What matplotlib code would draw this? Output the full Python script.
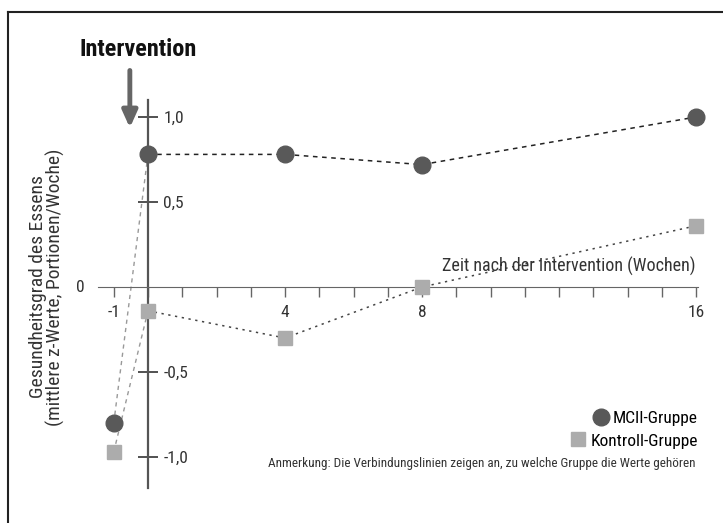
import matplotlib.pyplot as plt
from matplotlib.lines import Line2D

plt.rcParams['font.family'] = ['Roboto Condensed', 'DejaVu Sans']

# Daten: Wochen nach der Intervention und mittlere z-Werte
wochen = [-1, 0, 4, 8, 16]
mcii = [-0.80, 0.78, 0.78, 0.72, 1.00]
kontrolle = [-0.97, -0.14, -0.30, 0.00, 0.36]

x_ticks = list(range(-1, 17))
x_label_pos = [-1, 4, 8, 16]
y_ticks = [1.0, 0.5, -0.5, -1.0]
y_labels = ["1,0", "0,5", "-0,5", "-1,0"]

fig = plt.figure(figsize=(7.23, 5.23), dpi=100)
ax = fig.add_axes([0, 0, 1, 1])
ax.set_xlim(-148 / 34.25, (723 - 148) / 34.25)
ax.set_ylim((287 - 523) / 170, 287 / 170)

# Rahmen oben und links
fig.add_artist(Line2D([8 / 723, 8 / 723], [0, 1 - 12 / 523], color="#222222", lw=1.5))
fig.add_artist(Line2D([8 / 723, 1], [1 - 12 / 523, 1 - 12 / 523], color="#222222", lw=1.5))

# Achsen
for s in ["top", "left"]:
    ax.spines[s].set_visible(False)
ax.spines["bottom"].set_position(("data", 0))
ax.spines["bottom"].set_bounds(-1.46, 16.05)
ax.spines["bottom"].set_color("#666666")
ax.spines["right"].set_position(("data", 0))
ax.spines["right"].set_bounds(-1.18, 1.1)
ax.spines["right"].set_color("#555555")
ax.spines["right"].set_linewidth(1.6)

ax.set_xticks(x_ticks)
ax.set_xticklabels([str(t) if t in x_label_pos else "" for t in x_ticks])
ax.tick_params(axis="x", direction="out", length=7, width=1, colors="#666666",
               labelcolor="#333333", labelsize=12.5, pad=6)
ax.yaxis.tick_right()
ax.set_yticks(y_ticks)
ax.set_yticklabels(y_labels)
ax.tick_params(axis="y", direction="inout", length=14, width=1.2, colors="#333333",
               labelsize=12.5, pad=4)
ax.yaxis.get_major_ticks()[0].tick2line.set_color("#aaaaaa")
ax.text(-1.98, 0, "0", ha="center", va="center", fontsize=12.5, color="#333333")

# Verbindungslinien
ax.plot(wochen[:2], mcii[:2], ls=(0, (3, 3)), color="#999999", lw=1)
ax.plot(wochen[:2], kontrolle[:2], ls=(0, (3, 3)), color="#999999", lw=1)
ax.plot(wochen[1:], mcii[1:], ls=(0, (3, 3)), color="#222222", lw=1.1)
ax.plot(wochen[1:], kontrolle[1:], ls=(0, (1.5, 3)), color="#444444", lw=1.1)

# Punkte
ax.plot(wochen, mcii, "o", color="#595959", ms=12, ls="none", zorder=5)
ax.plot(wochen, kontrolle, "s", color="#acacac", ms=10, ls="none", zorder=5)

# Beschriftungen
ax.text(16.0, 0.12, "Zeit nach der Intervention (Wochen)", ha="right", va="center",
        fontsize=13, color="#333333")
ax.text(-2.95, 0.0, "Gesundheitsgrad des Essens\n(mittlere z-Werte, Portionen/Woche)",
        rotation=90, ha="center", va="center", fontsize=14, color="#333333",
        linespacing=0.9)
ax.text(-0.3, 1.395, "Intervention", ha="center", va="center", fontsize=17.5,
        fontweight="bold", color="#111111")
ax.annotate("", xy=(-0.53, 0.92), xytext=(-0.53, 1.29),
            arrowprops=dict(arrowstyle="-|>,head_width=0.45,head_length=1.0",
                            color="#666666", lw=3.5))

# Legende
h1 = Line2D([], [], marker="o", color="#595959", ms=12, ls="none")
h2 = Line2D([], [], marker="s", color="#acacac", ms=10, ls="none")
leg1 = ax.legend([h1], ["MCII-Gruppe"], loc="center right",
                 bbox_to_anchor=(0.965, 1 - 418 / 523), frameon=False,
                 fontsize=12.5, handletextpad=0.1, handlelength=1.2,
                 borderpad=0, borderaxespad=0)
ax.add_artist(leg1)
ax.legend([h2], ["Kontroll-Gruppe"], loc="center right",
          bbox_to_anchor=(0.965, 1 - 441 / 523), frameon=False,
          fontsize=12.5, handletextpad=0.1, handlelength=1.2,
          borderpad=0, borderaxespad=0)
ax.text(16.0, (287 - 463) / 170,
        "Anmerkung: Die Verbindungslinien zeigen an, zu welche Gruppe die Werte gehören",
        ha="right", va="center", fontsize=9.5, color="#333333")

fig.savefig("out.png", dpi=100)
